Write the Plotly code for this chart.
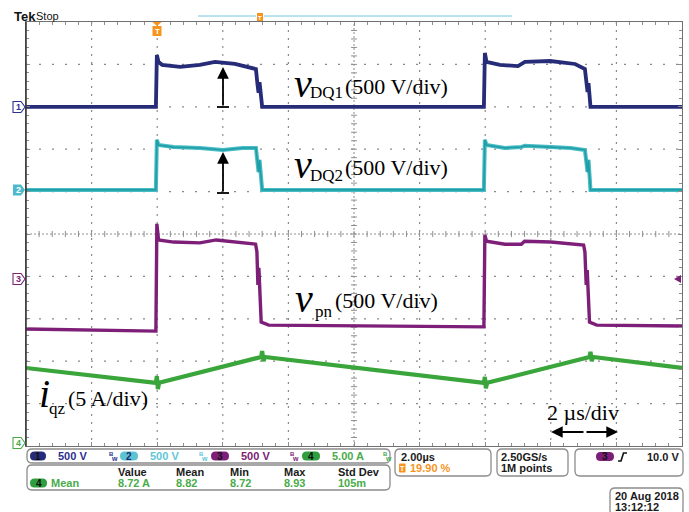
import plotly.graph_objects as go

W, H = 689, 512
GX0, GX1, GY0, GY1 = 26, 682, 22, 446

# ---------------- data (time in µs, level in divisions) ----------------
ch1_t = [0.00, 3.96, 3.99, 4.04, 4.15, 4.70, 5.30, 5.76, 6.37, 7.01, 7.06, 7.09, 7.12, 7.17, 7.20,
         13.96, 13.99, 14.04, 14.45, 15.00, 15.12, 15.21, 15.98, 16.74, 17.04, 17.09, 17.12, 17.15,
         17.18, 17.21, 20.00]
ch1_v = [8.00, 8.00, 9.22, 9.06, 8.99, 8.94, 8.99, 9.06, 9.01, 8.89, 8.51, 8.33, 8.58, 8.28, 8.00,
         8.00, 9.27, 9.06, 8.99, 8.96, 9.03, 9.06, 9.08, 9.01, 8.89, 8.51, 8.35, 8.56, 8.28, 8.00,
         8.00]

ch2_t = [0.00, 3.96, 3.99, 4.04, 4.50, 5.30, 6.00, 6.60, 7.01, 7.06, 7.09, 7.12, 7.17, 7.20,
         13.96, 13.99, 14.04, 14.60, 15.10, 15.20, 16.00, 16.60, 17.04, 17.09, 17.12, 17.15, 17.18,
         17.21, 20.00]
ch2_v = [6.04, 6.04, 7.22, 7.10, 7.05, 7.03, 6.98, 7.03, 7.03, 6.70, 6.46, 6.75, 6.39, 6.04,
         6.04, 7.22, 7.10, 7.03, 7.05, 7.08, 7.05, 7.03, 6.98, 6.70, 6.46, 6.75, 6.37, 6.04, 6.04]

ch3_t = [0.00, 3.96, 3.99, 4.04, 4.50, 5.30, 5.80, 6.40, 7.00, 7.04, 7.07, 7.10, 7.13, 7.17, 7.40,
         10.00, 13.96, 13.99, 14.04, 14.60, 15.10, 15.20, 16.00, 17.00, 17.04, 17.08, 17.11, 17.14,
         17.18, 17.40, 20.00]
ch3_v = [2.76, 2.71, 5.24, 4.86, 4.81, 4.79, 4.86, 4.81, 4.76, 4.58, 3.80, 4.20, 3.63, 2.92, 2.85,
         2.83, 2.81, 4.98, 4.83, 4.76, 4.76, 4.83, 4.81, 4.74, 4.58, 3.80, 4.15, 3.63, 2.92, 2.85,
         2.83]

ch4_t = [0.00, 3.96, 3.99, 4.02, 4.06, 7.17, 7.20, 7.24, 7.28, 13.96, 13.99, 14.02, 14.06,
         17.18, 17.21, 17.25, 17.29, 20.00]
ch4_v = [1.84, 1.49, 1.65, 1.34, 1.49, 2.10, 2.24, 2.00, 2.10, 1.49, 1.63, 1.36, 1.49,
         2.10, 2.22, 2.00, 2.10, 1.84]

channel_scales = ["500 V", "500 V", "500 V", "5.00 A"]
meas_headers = ["Value", "Mean", "Min", "Max", "Std Dev"]
meas_values = ["8.72 A", "8.82", "8.72", "8.93", "105m"]

C1, C2, C2D, C3, C4 = "#262c78", "#5cc3d4", "#1f9ea6", "#7d1f78", "#3aa53a"
C1T, C2T, C3T, C4T = "#2e3192", "#5fc6d8", "#7b2374", "#4aab4a"
ORANGE = "#f7941d"
GRID = "#8e8e8e"


def X(p):
    return p / W


def Y(p):
    return 1 - p / H


fig = go.Figure()
fig.add_trace(go.Scatter(x=ch1_t, y=ch1_v, mode="lines", line=dict(color=C1, width=3.8),
                         hoverinfo="skip"))
fig.add_trace(go.Scatter(x=ch2_t, y=ch2_v, mode="lines", line=dict(color="#49bcc6", width=4.0),
                         hoverinfo="skip"))
fig.add_trace(go.Scatter(x=ch2_t, y=ch2_v, mode="lines", line=dict(color=C2D, width=1.6),
                         hoverinfo="skip"))
fig.add_trace(go.Scatter(x=ch3_t, y=ch3_v, mode="lines", line=dict(color=C3, width=3.4),
                         hoverinfo="skip"))
fig.add_trace(go.Scatter(x=ch4_t, y=ch4_v, mode="lines", line=dict(color=C4, width=4.2),
                         hoverinfo="skip"))

shapes = []
annos = []


def pline(x0, y0, x1, y1, color="black", width=1.0, dash=None):
    d = dict(type="line", xref="paper", yref="paper", x0=X(x0), y0=Y(y0), x1=X(x1), y1=Y(y1),
             line=dict(color=color, width=width))
    if dash:
        d["line"]["dash"] = dash
    shapes.append(d)


def rrect(x0, y0, x1, y1, r, line="#8c8c8c", fill=None, width=1.3):
    p = (f"M {X(x0 + r)},{Y(y0)} L {X(x1 - r)},{Y(y0)} Q {X(x1)},{Y(y0)} {X(x1)},{Y(y0 + r)} "
         f"L {X(x1)},{Y(y1 - r)} Q {X(x1)},{Y(y1)} {X(x1 - r)},{Y(y1)} "
         f"L {X(x0 + r)},{Y(y1)} Q {X(x0)},{Y(y1)} {X(x0)},{Y(y1 - r)} "
         f"L {X(x0)},{Y(y0 + r)} Q {X(x0)},{Y(y0)} {X(x0 + r)},{Y(y0)} Z")
    d = dict(type="path", xref="paper", yref="paper", path=p,
             line=dict(color=line if line else "rgba(0,0,0,0)", width=width if line else 0))
    if fill:
        d["fillcolor"] = fill
    shapes.append(d)


def poly(pts, fill=None, line=None, width=1.0):
    p = "M " + " L ".join(f"{X(a)},{Y(b)}" for a, b in pts) + " Z"
    d = dict(type="path", xref="paper", yref="paper", path=p,
             line=dict(color=line if line else "rgba(0,0,0,0)", width=width if line else 0))
    if fill:
        d["fillcolor"] = fill
    shapes.append(d)


def txt(s, x, y, size=11, color="#1a1a1a", family="Liberation Sans", bold=True,
        xanchor="left"):
    annos.append(dict(text=f"<b>{s}</b>" if bold else s, x=X(x), y=Y(y), xref="paper",
                      yref="paper", xanchor=xanchor, yanchor="middle", showarrow=False,
                      font=dict(size=size, color=color, family=family)))


# ---------------- graticule: dotted division lines ----------------
for k in range(1, 10):
    if k == 5:
        continue
    gx = GX0 + k * (GX1 - GX0) / 10
    gy = GY0 + k * (GY1 - GY0) / 10
    shapes.append(dict(type="line", xref="paper", yref="paper", x0=X(gx), x1=X(gx),
                       y0=Y(GY0), y1=Y(GY1),
                       line=dict(color="#8a8a8a", width=1.2, dash="2px,6px")))
    shapes.append(dict(type="line", xref="paper", yref="paper", x0=X(GX0), x1=X(GX1),
                       y0=Y(gy), y1=Y(gy),
                       line=dict(color="#8a8a8a", width=1.2, dash="2px,11px")))

# centre cross with ticks
shapes.append(dict(type="line", xref="x", yref="y", x0=0, x1=20, y0=5, y1=5,
                   line=dict(color=GRID, width=1, dash="2px,2px")))
shapes.append(dict(type="line", xref="x", yref="y", x0=10, x1=10, y0=0, y1=10,
                   line=dict(color=GRID, width=1, dash="2px,2px")))
for k in range(1, 50):
    t = k * 0.4
    shapes.append(dict(type="line", xref="x", yref="y", x0=t, x1=t, y0=5 - 0.07, y1=5 + 0.07,
                       line=dict(color=GRID, width=1)))
    v = k * 0.2
    shapes.append(dict(type="line", xref="x", yref="y", x0=10 - 0.09, x1=10 + 0.09, y0=v, y1=v,
                       line=dict(color=GRID, width=1)))
for s in shapes:
    s["layer"] = "below"

# darker left frame edge
pline(GX0, GY0, GX0, GY1, color="#333333", width=1.5)

# ---------------- top indicators ----------------
txt("Tek", 12, 16, size=13, color="#111111")
txt("Stop", 34, 16, size=11, color="#111111", bold=False)
pline(198, 16, 256, 16, color="#a3d9e6", width=1.6)
pline(264, 16, 512, 16, color="#a3d9e6", width=1.6)
poly([(257, 13), (263, 13), (263, 21), (257, 21)], fill=ORANGE)
txt("T", 260, 17.5, size=6, color="white", xanchor="center")
poly([(152.5, 22), (161.5, 22), (157, 26)], fill=ORANGE)
poly([(152.5, 26), (161.5, 26), (161.5, 36), (152.5, 36)], fill=ORANGE)
txt("T", 157, 31, size=8, color="white", xanchor="center")

# ---------------- channel ground markers ----------------
def marker(yc, label, color, filled):
    pts = [(13, yc - 5.5), (21, yc - 5.5), (25, yc), (21, yc + 5.5), (13, yc + 5.5)]
    if filled:
        poly(pts, fill=color)
        txt(label, 18, yc, size=9, color="white", xanchor="center")
    else:
        poly(pts, fill="white", line=color, width=1.1)
        txt(label, 18, yc, size=9, color=color, xanchor="center")


marker(107, "1", C1T, False)
marker(190, "2", "#4cb9cc", True)
marker(279, "3", C3T, False)
marker(443, "4", C4T, False)

# trigger level arrow on the right edge
poly([(674, 279), (681, 275), (681, 283)], fill=C3)

# ---------------- annotations on the plot ----------------
SER = "Liberation Serif"
for vy, sub, suby, py_ in [(83, "DQ1", 92, 86), (164, "DQ2", 175, 167)]:
    annos.append(dict(text="<i>v</i>", x=X(303), y=Y(vy), xref="paper", yref="paper",
                      xanchor="center", yanchor="middle", showarrow=False,
                      font=dict(size=40, family=SER, color="black")))
    txt(sub, 308, suby, size=17, color="black", family=SER, bold=False)
    txt("(500 V/div)", 343, py_, size=22, color="black", family=SER, bold=False)

annos.append(dict(text="<i>v</i>", x=X(304), y=Y(298), xref="paper", yref="paper",
                  xanchor="center", yanchor="middle", showarrow=False,
                  font=dict(size=40, family=SER, color="black")))
txt("pn", 313, 311, size=17, color="black", family=SER, bold=False)
txt("(500 V/div)", 333, 300, size=22, color="black", family=SER, bold=False)

annos.append(dict(text="<i>i</i>", x=X(44), y=Y(393), xref="paper", yref="paper",
                  xanchor="center", yanchor="middle", showarrow=False,
                  font=dict(size=40, family=SER, color="black")))
txt("qz", 47, 408, size=17, color="black", family=SER, bold=False)
txt("(5 A/div)", 66, 398, size=22, color="black", family=SER, bold=False)

txt("2 µs/div", 545, 412, size=22, color="black", family=SER, bold=False)

# arrows
for head_y, base_y in [(67, 107), (152, 193)]:
    annos.append(dict(x=X(223), y=Y(head_y), xref="paper", yref="paper", ax=0,
                      ay=base_y - head_y, text="", showarrow=True, arrowhead=2, arrowsize=1.3,
                      arrowwidth=1.8, arrowcolor="black"))
    pline(217, base_y, 229, base_y, color="black", width=1.8)

for hx, ax in [(551, 34), (618, -33)]:
    annos.append(dict(x=X(hx), y=Y(432), xref="paper", yref="paper", ax=ax, ay=0, text="",
                      showarrow=True, arrowhead=2, arrowsize=1.3, arrowwidth=1.8,
                      arrowcolor="black"))

# ---------------- status bar ----------------
rrect(27, 449, 390, 463, 5)
rrect(27, 465, 390, 490, 5)
rrect(395, 449, 491, 476, 5)
rrect(497, 449, 568, 476, 5)
rrect(575, 449, 683, 476, 5)
rrect(610, 488, 683, 515, 5)

pills = [(30, 46, C1, "#111111", C1T), (120, 138, C2, "#1d2a6b", C2T),
         (211, 229, C3, "#111111", C3T), (302, 320, "#2e9e3e", "#111111", C4T)]
icon_x = [108, 198, 289, 382]
for i, (a, b, pc, tc, sc) in enumerate(pills):
    rrect(a, 451.5, b, 460.5, 4.5, line=None, fill=pc)
    txt(str(i + 1), (a + b) / 2, 456, size=10, color=tc, xanchor="center")
    txt(channel_scales[i], b + 10, 456, size=11, color=sc)
    txt("B", icon_x[i] - 1.5, 453.5, size=6, color=sc)
    txt("w", icon_x[i] + 0.5, 458, size=7, color=sc)

col_x = [116, 174, 228, 282, 336]
for cx, hd, vl in zip(col_x, meas_headers, meas_values):
    txt(hd, cx, 471.5, size=11, color="#1a1a1a")
    txt(vl, cx, 483, size=11, color=C4T)
rrect(30, 478.5, 47, 487.5, 4.5, line=None, fill="#2e9e3e")
txt("4", 38.5, 483, size=10, color="#111111", xanchor="center")
txt("Mean", 49, 483, size=11, color=C4T)

txt("2.00µs", 399, 457, size=11)
rrect(399, 463.5, 405.5, 472.5, 1, line=None, fill=ORANGE)
txt("T", 402.2, 468, size=7, color="white", xanchor="center")
txt("19.90 %", 408, 468, size=11, color=ORANGE)

txt("2.50GS/s", 499, 457, size=11)
txt("1M points", 499, 468, size=11)

rrect(596, 452, 614, 461, 4.5, line=None, fill=C3)
txt("3", 605, 456.5, size=10, color="#111111", xanchor="center")
shapes.append(dict(type="path", xref="paper", yref="paper",
                   path=(f"M {X(618)},{Y(461)} L {X(621)},{Y(461)} L {X(623.5)},{Y(453)} "
                         f"L {X(627)},{Y(453)}"),
                   line=dict(color="#111111", width=1.6)))
txt("10.0 V", 645, 457, size=11)

txt("20 Aug 2018", 613, 496, size=11)
txt("13:12:12", 613, 507, size=11)

fig.update_layout(
    width=W, height=H, autosize=False,
    margin=dict(l=0, r=0, t=0, b=0, pad=0),
    paper_bgcolor="white", plot_bgcolor="rgba(0,0,0,0)", showlegend=False,
    xaxis=dict(domain=[X(GX0), X(GX1)], range=[0, 20], dtick=2, showgrid=False,
               zeroline=False,
               showline=True, linecolor="#707070", linewidth=1.2, mirror="allticks",
               ticks="inside", ticklen=4, tickcolor=GRID, showticklabels=False,
               fixedrange=True,
               minor=dict(dtick=0.4, ticks="inside", ticklen=3, tickcolor=GRID,
                          showgrid=False)),
    yaxis=dict(domain=[Y(GY1), Y(GY0)], range=[0, 10], dtick=1, showgrid=False,
               zeroline=False,
               showline=True, linecolor="#707070", linewidth=1.2, mirror="allticks",
               ticks="inside", ticklen=4, tickcolor=GRID, showticklabels=False,
               fixedrange=True,
               minor=dict(dtick=0.2, ticks="inside", ticklen=3, tickcolor=GRID,
                          showgrid=False)),
    shapes=shapes, annotations=annos,
)

fig.write_html("out.html", post_script="document.body.style.margin='0';",
               config={"displayModeBar": False})
